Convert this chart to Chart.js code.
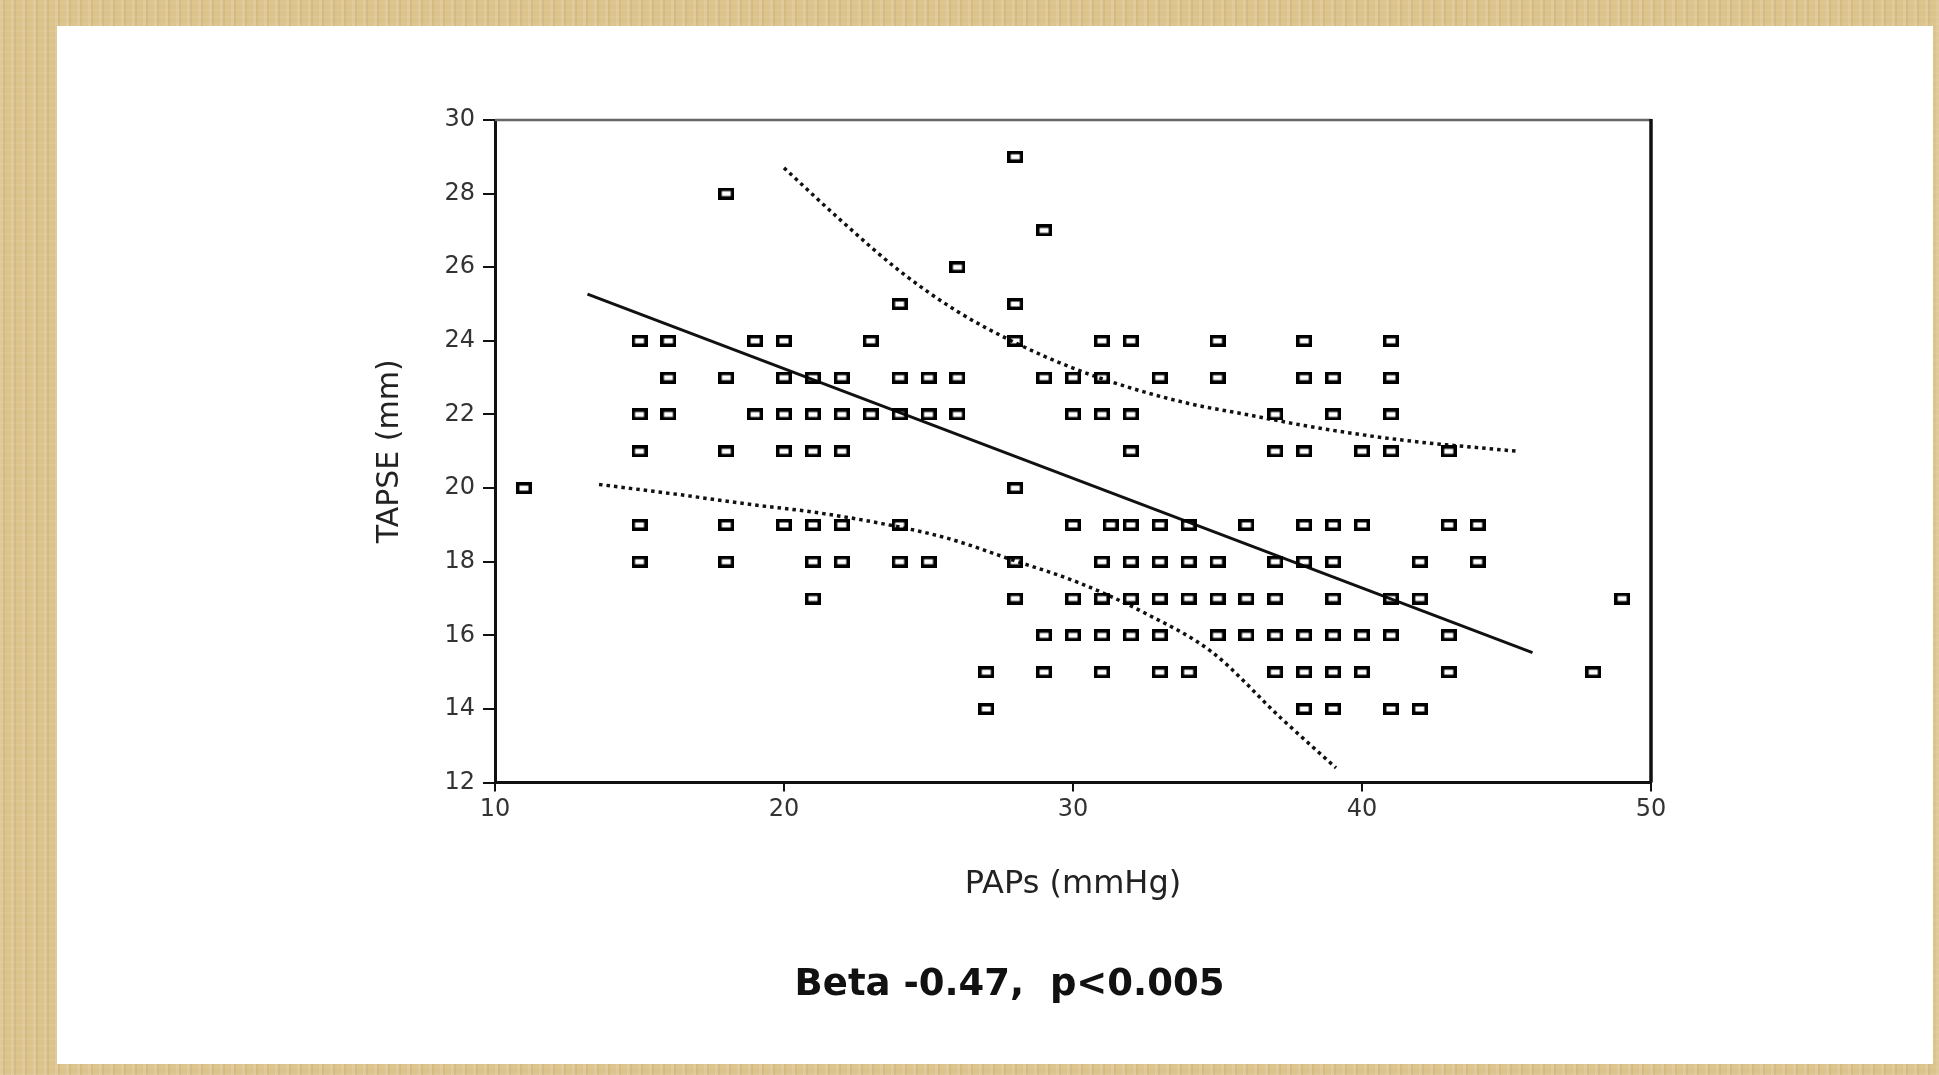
<!DOCTYPE html>
<html>
<head>
<meta charset="utf-8">
<title>TAPSE vs PAPs</title>
<script src="https://cdn.jsdelivr.net/npm/chart.js@4.4.1/dist/chart.umd.min.js"></script>
<style>
  html, body {
    margin: 0;
    padding: 0;
    width: 1939px;
    height: 1075px;
    overflow: hidden;
  }
  body {
    background-color: #dcc38c;
    background-image:
      repeating-linear-gradient(90deg, rgba(255,255,255,0.10) 0 3px, rgba(140,105,40,0.10) 3px 5px, transparent 5px 11px),
      repeating-linear-gradient(0deg, rgba(255,255,255,0.06) 0 2px, transparent 2px 7px);
    position: relative;
  }
  #panel {
    position: absolute;
    left: 57px;
    top: 26px;
    width: 1876px;
    height: 1038px;
    background: #ffffff;
  }
  #wrap {
    position: absolute;
    left: 0;
    top: 0;
    width: 1939px;
    height: 1075px;
  }
</style>
</head>
<body>
<div id="panel"></div>
<div id="wrap"><canvas id="tapseChart"></canvas></div>

<script>
// TAPSE rows (mm) and the PAPs values (mmHg) found on each row
const tapseLevels = [29, 28, 27, 26, 25, 24, 23, 22, 21, 20, 19, 18, 17, 16, 15, 14];
const papsByLevel = [
  [28],
  [18],
  [29],
  [26],
  [24, 28],
  [15, 16, 19, 20, 23, 28, 31, 32, 35, 38, 41],
  [16, 18, 20, 21, 22, 24, 25, 26, 29, 30, 31, 33, 35, 38, 39, 41],
  [15, 16, 19, 20, 21, 22, 23, 24, 25, 26, 30, 31, 32, 37, 39, 41],
  [15, 18, 20, 21, 22, 32, 37, 38, 40, 41, 43],
  [11, 28],
  [15, 18, 20, 21, 22, 24, 30, 31.3, 32, 33, 34, 36, 38, 39, 40, 43, 44],
  [15, 18, 21, 22, 24, 25, 28, 31, 32, 33, 34, 35, 37, 38, 39, 42, 44],
  [21, 28, 30, 31, 32, 33, 34, 35, 36, 37, 39, 41, 42, 49],
  [29, 30, 31, 32, 33, 35, 36, 37, 38, 39, 40, 41, 43],
  [27, 29, 31, 33, 34, 37, 38, 39, 40, 43, 48],
  [27, 38, 39, 41, 42]
];

// regression line and its confidence band
const fitLine = [[13.2, 25.27], [45.9, 15.53]];
const upperBand = [
  [20.0, 28.7], [22, 27.25], [24, 25.9], [26, 24.8], [28, 23.95], [30, 23.26],
  [32, 22.72], [34, 22.3], [36, 22.0], [38, 21.7], [40, 21.45], [42, 21.25],
  [44, 21.1], [45.4, 21.0]
];
const lowerBand = [
  [13.6, 20.1], [16.4, 19.82], [18.9, 19.55], [21, 19.35], [23.3, 19.05],
  [25.6, 18.65], [27.9, 18.05], [30.2, 17.43], [32.5, 16.6], [34.8, 15.55],
  [37.2, 13.75], [39.1, 12.4]
];

const xTicks = [10, 20, 30, 40, 50];
const yTicks = [12, 14, 16, 18, 20, 22, 24, 26, 28, 30];

const scatterPoints = [];
tapseLevels.forEach((level, i) => {
  papsByLevel[i].forEach(p => scatterPoints.push({ x: p, y: level }));
});

const toXY = arr => arr.map(p => ({ x: p[0], y: p[1] }));

// hollow rectangle marker, a bit wider than tall like the scan
const marker = document.createElement("canvas");
marker.width = 16;
marker.height = 12;
const mctx = marker.getContext("2d");
mctx.strokeStyle = "#000";
mctx.lineWidth = 3.5;
mctx.strokeRect(1.75, 1.75, 12.5, 8.5);

const framePlugin = {
  id: "frame",
  afterDraw(chart) {
    const { ctx, chartArea } = chart;
    ctx.save();
    ctx.strokeStyle = "#666";
    ctx.lineWidth = 2.5;
    ctx.beginPath();
    ctx.moveTo(chartArea.left, chartArea.top);
    ctx.lineTo(chartArea.right, chartArea.top);
    ctx.stroke();
    ctx.strokeStyle = "#111";
    ctx.lineWidth = 3.5;
    ctx.beginPath();
    ctx.moveTo(chartArea.right, chartArea.top - 1);
    ctx.lineTo(chartArea.right, chartArea.bottom);
    ctx.stroke();
    ctx.restore();
  }
};

const tickFont = { family: "'DejaVu Sans', sans-serif", size: 24 };

new Chart(document.getElementById("tapseChart"), {
  type: "scatter",
  data: {
    datasets: [
      {
        label: "TAPSE",
        data: scatterPoints,
        pointStyle: marker,
        pointRadius: 6,
        order: 0
      },
      {
        label: "Fit",
        type: "line",
        data: toXY(fitLine),
        borderColor: "#111",
        borderWidth: 3,
        pointRadius: 0,
        fill: false,
        order: 1
      },
      {
        label: "Upper",
        type: "line",
        data: toXY(upperBand),
        borderColor: "#111",
        borderWidth: 3.5,
        borderDash: [3.5, 4],
        cubicInterpolationMode: "monotone",
        pointRadius: 0,
        fill: false,
        order: 2
      },
      {
        label: "Lower",
        type: "line",
        data: toXY(lowerBand),
        borderColor: "#111",
        borderWidth: 3.5,
        borderDash: [3.5, 4],
        cubicInterpolationMode: "monotone",
        pointRadius: 0,
        fill: false,
        order: 3
      }
    ]
  },
  options: {
    responsive: true,
    maintainAspectRatio: false,
    animation: false,
    layout: {
      padding: { left: 368, right: 288, top: 120, bottom: 67 }
    },
    plugins: {
      legend: { display: false },
      tooltip: { enabled: false },
      title: {
        display: true,
        position: "bottom",
        text: "Beta -0.47,  p<0.005",
        color: "#111",
        font: { family: "'DejaVu Sans', sans-serif", size: 37, weight: "bold" },
        padding: { top: 56, bottom: 0 }
      }
    },
    scales: {
      x: {
        type: "linear",
        min: 10,
        max: 50,
        afterBuildTicks: s => { s.ticks = xTicks.map(v => ({ value: v })); },
        afterFit: s => { s.height = 125; },
        ticks: { font: tickFont, color: "#333", padding: 4 },
        grid: { drawOnChartArea: false, color: "#111", lineWidth: 2, tickLength: 9 },
        border: { color: "#111", width: 3 },
        title: {
          display: true,
          text: "PAPs (mmHg)",
          color: "#222",
          font: { family: "'DejaVu Sans', sans-serif", size: 32 }
        }
      },
      y: {
        type: "linear",
        min: 12,
        max: 30,
        afterBuildTicks: s => { s.ticks = yTicks.map(v => ({ value: v })); },
        afterFit: s => { s.width = 127; },
        ticks: { font: tickFont, color: "#333", padding: 8 },
        grid: { drawOnChartArea: false, color: "#111", lineWidth: 2, tickLength: 12 },
        border: { color: "#111", width: 3 },
        title: {
          display: true,
          text: "TAPSE (mm)",
          color: "#222",
          font: { family: "'DejaVu Sans', sans-serif", size: 30 }
        }
      }
    }
  },
  plugins: [framePlugin]
});
</script>
</body>
</html>
